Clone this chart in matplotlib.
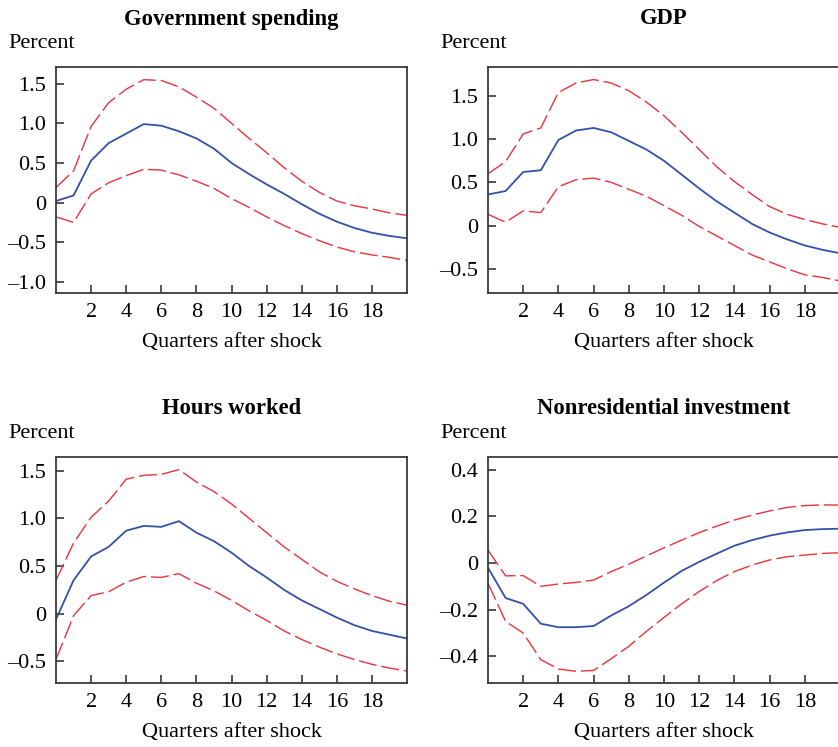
import matplotlib
matplotlib.use("Agg")
import matplotlib.pyplot as plt
from matplotlib.ticker import FuncFormatter

plt.rcParams["font.family"] = ["Liberation Serif", "DejaVu Serif"]
plt.rcParams["font.size"] = 14

QUARTERS = list(range(21))

GOV_MID = [0.02, 0.09, 0.53, 0.75, 0.87, 0.99, 0.97, 0.90, 0.81, 0.68, 0.50,
           0.36, 0.23, 0.11, -0.02, -0.14, -0.24, -0.32, -0.38, -0.42, -0.45]
GOV_HI = [0.19, 0.40, 0.96, 1.26, 1.43, 1.55, 1.54, 1.46, 1.33, 1.19, 1.00,
          0.81, 0.63, 0.44, 0.27, 0.13, 0.02, -0.04, -0.08, -0.13, -0.16]
GOV_LO = [-0.18, -0.25, 0.11, 0.25, 0.34, 0.42, 0.41, 0.35, 0.27, 0.18, 0.05,
          -0.06, -0.18, -0.29, -0.39, -0.48, -0.56, -0.62, -0.66, -0.69, -0.73]

GDP_MID = [0.36, 0.40, 0.62, 0.64, 0.99, 1.10, 1.13, 1.08, 0.98, 0.88, 0.75,
           0.59, 0.43, 0.28, 0.15, 0.02, -0.08, -0.16, -0.23, -0.28, -0.32]
GDP_HI = [0.60, 0.74, 1.06, 1.13, 1.54, 1.65, 1.69, 1.65, 1.56, 1.43, 1.27,
          1.08, 0.88, 0.68, 0.51, 0.36, 0.22, 0.13, 0.07, 0.02, -0.02]
GDP_LO = [0.13, 0.04, 0.17, 0.15, 0.45, 0.53, 0.55, 0.50, 0.42, 0.34, 0.23,
          0.12, -0.01, -0.12, -0.23, -0.34, -0.42, -0.50, -0.57, -0.60, -0.64]

HRS_MID = [-0.06, 0.35, 0.60, 0.70, 0.87, 0.92, 0.91, 0.97, 0.85, 0.76, 0.64,
           0.50, 0.38, 0.25, 0.14, 0.05, -0.04, -0.12, -0.18, -0.22, -0.26]
HRS_HI = [0.35, 0.74, 1.01, 1.18, 1.41, 1.45, 1.46, 1.51, 1.38, 1.28, 1.15,
          1.00, 0.85, 0.70, 0.57, 0.44, 0.34, 0.26, 0.19, 0.13, 0.09]
HRS_LO = [-0.48, -0.02, 0.19, 0.23, 0.33, 0.39, 0.38, 0.42, 0.32, 0.24, 0.14,
          0.03, -0.07, -0.18, -0.27, -0.35, -0.42, -0.48, -0.53, -0.57, -0.60]

INV_MID = [-0.02, -0.15, -0.175, -0.26, -0.275, -0.275, -0.27, -0.225, -0.185,
           -0.137, -0.084, -0.034, 0.005, 0.04, 0.074, 0.098, 0.117, 0.131,
           0.141, 0.145, 0.147]
INV_HI = [0.055, -0.055, -0.054, -0.10, -0.09, -0.083, -0.073, -0.037, -0.005,
          0.03, 0.065, 0.098, 0.13, 0.158, 0.184, 0.205, 0.223, 0.238, 0.246,
          0.249, 0.248]
INV_LO = [-0.087, -0.25, -0.30, -0.414, -0.454, -0.464, -0.46, -0.41, -0.357,
          -0.293, -0.233, -0.175, -0.122, -0.075, -0.037, -0.009, 0.013, 0.027,
          0.034, 0.041, 0.044]

PANELS = [
    ("Government spending", GOV_MID, GOV_HI, GOV_LO,
     [1.5, 1.0, 0.5, 0, -0.5, -1.0], (-1.14, 1.71)),
    ("GDP", GDP_MID, GDP_HI, GDP_LO,
     [1.5, 1.0, 0.5, 0, -0.5], (-0.78, 1.835)),
    ("Hours worked", HRS_MID, HRS_HI, HRS_LO,
     [1.5, 1.0, 0.5, 0, -0.5], (-0.726, 1.642)),
    ("Nonresidential investment", INV_MID, INV_HI, INV_LO,
     [0.4, 0.2, 0, -0.2, -0.4], (-0.514, 0.454)),
]

# axes boxes in pixels: left, top, right, bottom
BOXES = [(56, 67, 407, 293), (488, 67, 840, 293),
         (56, 457, 407, 683), (488, 457, 840, 683)]

W, H = 838, 747
BLUE = "#3450a8"
RED = "#e8333a"
SPINE = "#3a3a3a"


def fmt(v, _):
    if abs(v) < 1e-9:
        return "0"
    s = f"{abs(v):.1f}"
    return ("\u2013" + s) if v < 0 else s


fig = plt.figure(figsize=(W / 100, H / 100), dpi=100)

for (title, mid, hi, lo, yticks, ylim), (l, t, r, b) in zip(PANELS, BOXES):
    ax = fig.add_axes([l / W, 1 - b / H, (r - l) / W, (b - t) / H])
    ax.plot(QUARTERS, mid, color=BLUE, lw=1.3)
    for band in (hi, lo):
        ax.plot(QUARTERS, band, color=RED, lw=1.0, dashes=(13, 3.5))
    ax.set_xlim(0, 20)
    ax.set_ylim(*ylim)
    ax.set_xticks(range(2, 20, 2))
    ax.set_yticks(yticks)
    ax.yaxis.set_major_formatter(FuncFormatter(fmt))
    ax.tick_params(direction="in", length=6, width=1.2, color=SPINE,
                   labelsize=16, pad=7)
    ax.tick_params(axis="x", pad=7)
    for sp in ax.spines.values():
        sp.set_color(SPINE)
        sp.set_linewidth(1.3)
    cx = (l + r) / 2
    fig.text(cx / W, 1 - (t - 48) / H, title,
             ha="center", va="center", fontsize=16.3, fontweight="bold")
    fig.text((l - 48) / W, 1 - (t - 24) / H, "Percent",
             ha="left", va="center", fontsize=16)
    fig.text(cx / W, 1 - (b + 50) / H, "Quarters after shock",
             ha="center", va="center", fontsize=16)

fig.savefig("out.png", dpi=100)
